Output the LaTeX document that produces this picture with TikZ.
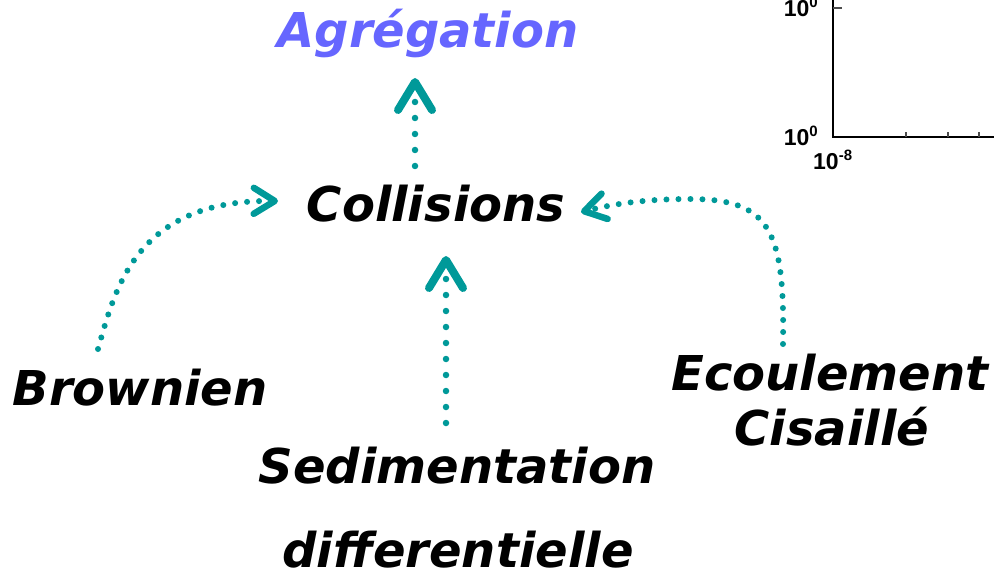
\documentclass[tikz,border=0pt]{standalone}
\usepackage{fontspec}
\setmainfont{DejaVu Sans}
\newfontfamily\axisfont{Liberation Sans}
\usetikzlibrary{arrows.meta}
\definecolor{arrowteal}{RGB}{0,153,153}
\definecolor{aggblue}{RGB}{102,102,255}
\begin{document}
\begin{tikzpicture}[x=1pt,y=-1pt,
  lbl/.style={font=\fontsize{48}{52}\selectfont\bfseries\itshape, inner sep=0pt, anchor=base},
  axlbl/.style={font=\axisfont\bfseries\fontsize{23}{23}\selectfont, inner sep=0pt},
  straightdots/.style={draw=arrowteal, line width=6.5pt, line cap=round, dash pattern=on 0pt off 16pt,
    -{Straight Barb[length=28pt, width=34pt, round, line width=8pt]}},
  curvedots/.style={draw=arrowteal, line width=6pt, line cap=round, dash pattern=on 0pt off 12pt,
    -{Straight Barb[length=21pt, width=26pt, round, line width=6.5pt]}},
  axisline/.style={draw=black, line width=2pt},
  tick/.style={draw=black!70, line width=1.2pt}]
\useasboundingbox (0,0) rectangle (994,575);

% partial plot in the corner
\draw[axisline] (833,0) -- (833,137) -- (994,137);
\draw[tick] (833,8) -- (842,8);
\foreach \tx in {906,948,979} \draw[tick] (\tx,137) -- (\tx,132);
\node[axlbl, anchor=base east] (ytop) at (818,17) {10\raisebox{9pt}{\fontsize{15}{15}\selectfont 0}};
\node[axlbl, anchor=base east] (ybot) at (818,146) {10\raisebox{9pt}{\fontsize{15}{15}\selectfont 0}};
\node[axlbl, anchor=base west] (xleft) at (813,170) {10\raisebox{9pt}{\fontsize{15}{15}\selectfont -8}};

% labels
\node[lbl, text=aggblue] (agg) at (428,48) {Agrégation};
\node[lbl] (coll) at (436,222) {Collisions};
\node[lbl] (brown) at (140,405) {Brownien};
\node[lbl] (ecou) at (830,390) {Ecoulement};
\node[lbl] (cis) at (832,445) {Cisaillé};
\node[lbl] (sed) at (457,483) {Sedimentation};
\node[lbl] (diff) at (458,567) {differentielle};

% connector ends
\coordinate (aggIn) at (415,78);
\coordinate (collTop) at (415,166);
\coordinate (collBot) at (446,256);
\coordinate (sedTop) at (446,423);
\coordinate (collW) at (278,201);
\coordinate (brownTop) at (98,349);
\coordinate (collE) at (581,212);
\coordinate (ecouTop) at (783,344);

\draw[straightdots] (collTop) -- (aggIn);
\draw[straightdots] (sedTop) -- (collBot);
\draw[curvedots] (brownTop) .. controls (115,290) and (135,200) .. (collW);
\draw[curvedots] (ecouTop) .. controls (785,230) and (770,199) .. (690,199)
   .. controls (640,199) and (610,205) .. (collE);
\end{tikzpicture}
\end{document}
